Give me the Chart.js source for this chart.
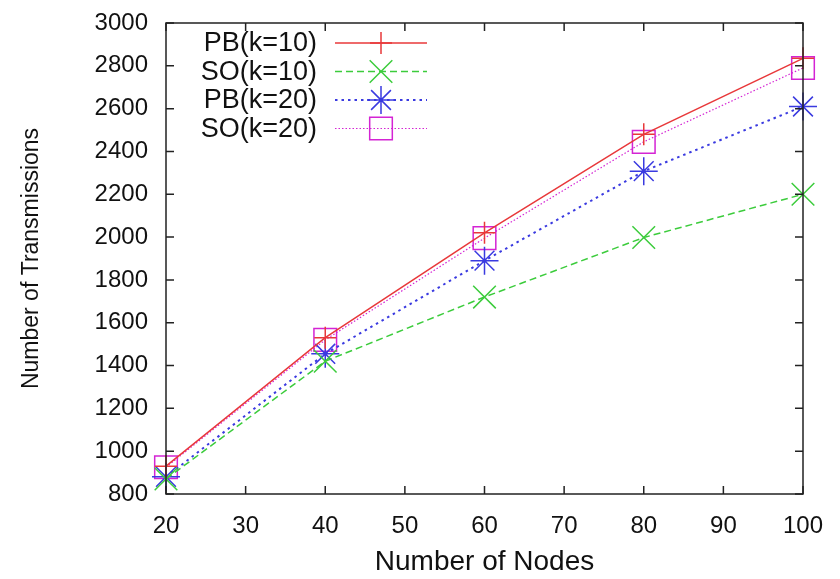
<!DOCTYPE html>
<html>
<head>
<meta charset="utf-8">
<script src="https://cdn.jsdelivr.net/npm/chart.js@4.4.1/dist/chart.umd.min.js"></script>
<style>
  html, body { margin: 0; padding: 0; background: #fff; }
  #wrap { width: 840px; height: 579px; }
</style>
</head>
<body>
<div id="wrap"><canvas id="chart" width="840" height="579"></canvas></div>
<script>
// data
const nodes = [20, 40, 60, 80, 100];
const pbK10 = [930, 1530, 2020, 2480, 2835];
const soK10 = [870, 1420, 1720, 1998, 2200];
const pbK20 = [880, 1455, 1890, 2308, 2610];
const soK20 = [925, 1520, 1995, 2445, 2790];
const seriesNames = ['PB(k=10)', 'SO(k=10)', 'PB(k=20)', 'SO(k=20)'];

const FONT = '"Liberation Sans", Arial, Helvetica, sans-serif';
const TICK_LEN = 8;

function toPoints(vals) {
  return nodes.map((n, i) => ({ x: n, y: vals[i] }));
}

function makeSet(label, vals, color, dash, width, style, radius) {
  return {
    label: label,
    data: toPoints(vals),
    borderColor: color,
    backgroundColor: 'rgba(0,0,0,0)',
    borderWidth: width,
    borderDash: dash,
    pointStyle: style,
    pointRadius: radius,
    pointBorderColor: color,
    pointBackgroundColor: 'rgba(0,0,0,0)',
    pointBorderWidth: 1.5,
    tension: 0,
    clip: false
  };
}

// gnuplot style frame with inward ticks on all four sides
const framePlugin = {
  id: 'frame',
  afterDraw(chart) {
    const { ctx, chartArea: a, scales } = chart;
    ctx.save();
    ctx.strokeStyle = '#222';
    ctx.lineWidth = 1.5;
    ctx.setLineDash([]);
    ctx.strokeRect(a.left, a.top, a.right - a.left, a.bottom - a.top);
    ctx.beginPath();
    scales.x.ticks.forEach(t => {
      const px = scales.x.getPixelForValue(t.value);
      ctx.moveTo(px, a.bottom); ctx.lineTo(px, a.bottom - TICK_LEN);
      ctx.moveTo(px, a.top); ctx.lineTo(px, a.top + TICK_LEN);
    });
    scales.y.ticks.forEach(t => {
      const py = scales.y.getPixelForValue(t.value);
      ctx.moveTo(a.left, py); ctx.lineTo(a.left + TICK_LEN, py);
      ctx.moveTo(a.right, py); ctx.lineTo(a.right - TICK_LEN, py);
    });
    ctx.stroke();
    ctx.restore();
  }
};

// legend inside the plot: label, then line sample with marker
const keyPlugin = {
  id: 'key',
  afterDraw(chart) {
    const { ctx, chartArea: a } = chart;
    ctx.save();
    chart.data.datasets.forEach((ds, i) => {
      const rowY = a.top + 20 + i * 28.5;
      ctx.fillStyle = '#111';
      ctx.font = '27px ' + FONT;
      ctx.textAlign = 'right';
      ctx.textBaseline = 'middle';
      ctx.fillText(ds.label, a.left + 151, rowY + 1);

      ctx.strokeStyle = ds.borderColor;
      ctx.lineWidth = ds.borderWidth;
      ctx.setLineDash(ds.borderDash || []);
      ctx.beginPath();
      ctx.moveTo(a.left + 169, rowY);
      ctx.lineTo(a.left + 261, rowY);
      ctx.stroke();

      ctx.setLineDash([]);
      ctx.lineWidth = ds.pointBorderWidth;
      ctx.fillStyle = 'rgba(0,0,0,0)';
      Chart.helpers.drawPoint(ctx, {
        pointStyle: ds.pointStyle,
        radius: ds.pointRadius,
        borderWidth: ds.pointBorderWidth,
        rotation: 0
      }, a.left + 215, rowY);
    });
    ctx.restore();
  }
};

new Chart(document.getElementById('chart'), {
  type: 'line',
  data: {
    datasets: [
      makeSet(seriesNames[0], pbK10, '#e8383a', [], 1.5, 'cross', 11),
      makeSet(seriesNames[1], soK10, '#3ccc3c', [7, 4], 1.5, 'crossRot', 16),
      makeSet(seriesNames[2], pbK20, '#3a3ae0', [2.5, 4], 2, 'star', 14),
      makeSet(seriesNames[3], soK20, '#d424d4', [1.5, 2], 1.2, 'rect', 16)
    ]
  },
  options: {
    responsive: false,
    devicePixelRatio: 1,
    animation: false,
    layout: { padding: { top: 23, right: 37, left: 8, bottom: 0 } },
    plugins: {
      legend: { display: false },
      tooltip: { enabled: false }
    },
    scales: {
      x: {
        type: 'linear',
        min: 20,
        max: 100,
        ticks: { stepSize: 10, padding: 18, color: '#111', font: { family: FONT, size: 24 },
          callback: v => String(v) },
        grid: { display: false, drawTicks: false },
        border: { display: false },
        title: { display: true, text: 'Number of Nodes', color: '#111', font: { family: FONT, size: 28 }, padding: { top: 0, bottom: 0 } },
        afterFit(s) { s.height = 85; s.paddingLeft = 0; s.paddingRight = 0; }
      },
      y: {
        min: 800,
        max: 3000,
        ticks: { stepSize: 200, padding: 18, color: '#111', font: { family: FONT, size: 24 },
          callback: v => String(v) },
        grid: { display: false, drawTicks: false },
        border: { display: false },
        title: { display: true, text: 'Number of Transmissions', color: '#111', font: { family: FONT, size: 23 }, padding: { top: 10, bottom: 0 } },
        afterFit(s) { s.width = 158; s.paddingTop = 0; s.paddingBottom = 0; }
      }
    }
  },
  plugins: [framePlugin, keyPlugin]
});
</script>
</body>
</html>
